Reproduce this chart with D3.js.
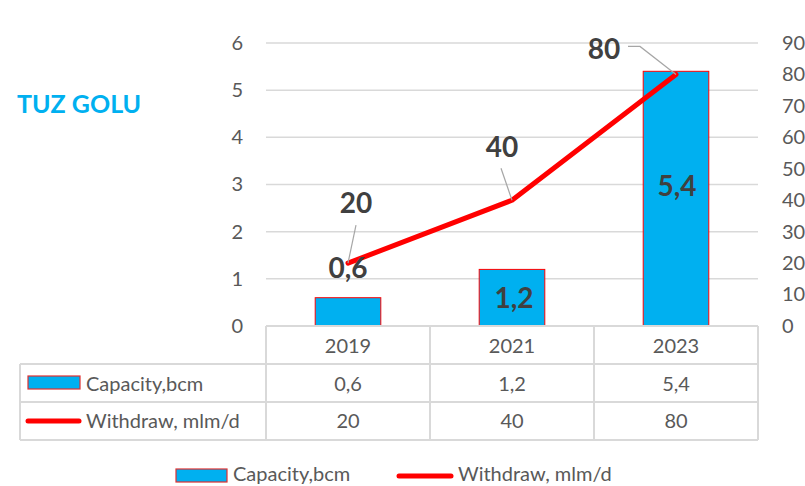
<!DOCTYPE html>
<html><head><meta charset="utf-8">
<script src="https://cdn.jsdelivr.net/npm/d3@7"></script>
<style>
body{margin:0;background:#fff;}
svg{display:block;font-family:Lato,"Open Sans",sans-serif;}
</style></head>
<body><svg id="c" width="805" height="486"></svg>
<script>
const categories = ["2019","2021","2023"];
const capacity = [0.6,1.2,5.4];
const withdraw = [20,40,80];
const capacityLabels = ["0,6","1,2","5,4"];
const leftTicks = [0,1,2,3,4,5,6];
const rightTicks = [0,10,20,30,40,50,60,70,80,90];
const seriesNames = ["Capacity,bcm","Withdraw, mlm/d"];
const title = "TUZ GOLU";

const svg = d3.select("#c");
const L = 266, R = 758, T = 43, B = 326;
const x = d3.scaleBand().domain(categories).range([L,R]).padding(0);
const yL = d3.scaleLinear().domain([0,6]).range([B,T]);
const yR = d3.scaleLinear().domain([0,90]).range([B,T]);
const grid = "#D9D9D9", txt = "#595959", lbl = "#404040";
const blue = "#00B0F0", red = "#FF0000";

// title
svg.append("text").attr("x",17).attr("y",113).attr("fill",blue)
  .attr("font-weight","bold").attr("font-size",25).text(title);

// gridlines
svg.append("g").selectAll("line").data(leftTicks.filter(d=>d>0)).join("line")
  .attr("x1",L).attr("x2",R).attr("y1",d=>yL(d)).attr("y2",d=>yL(d))
  .attr("stroke",grid).attr("stroke-width",1.5);

// left axis
const ax = svg.append("g").attr("transform",`translate(${L-23},0)`)
  .call(d3.axisLeft(yL).tickValues(leftTicks).tickSize(0).tickPadding(0).tickFormat(d3.format("d")));
ax.select(".domain").remove();
ax.selectAll("text").attr("font-size",20).attr("fill",txt).attr("font-family","Lato,sans-serif");
// right axis
const ar = svg.append("g").attr("transform",`translate(${R+24},0)`)
  .call(d3.axisRight(yR).tickValues(rightTicks).tickSize(0).tickPadding(0).tickFormat(d3.format("d")));
ar.select(".domain").remove();
ar.selectAll("text").attr("font-size",20).attr("fill",txt).attr("font-family","Lato,sans-serif");

// bars
const bw = x.bandwidth()*0.4;
svg.append("g").selectAll("rect").data(categories).join("rect")
  .attr("x",(d)=>x(d)+x.bandwidth()/2-bw/2).attr("width",bw)
  .attr("y",(d,i)=>yL(capacity[i])).attr("height",(d,i)=>B-yL(capacity[i]))
  .attr("fill",blue).attr("stroke",red).attr("stroke-width",1);

// table lines
const tg = svg.append("g").attr("stroke",grid).attr("stroke-width",2).attr("fill","none");
tg.append("line").attr("x1",L).attr("x2",R).attr("y1",B).attr("y2",B);
[364,402,440].forEach(yv=>tg.append("line").attr("x1",20).attr("x2",R).attr("y1",yv).attr("y2",yv));
tg.append("line").attr("x1",20).attr("x2",20).attr("y1",364).attr("y2",440);
[L, ...categories.map(c=>x(c)+x.bandwidth())].forEach(xv=>
  tg.append("line").attr("x1",xv).attr("x2",xv).attr("y1",B).attr("y2",440));

// header text
svg.append("g").selectAll("text").data(categories).join("text")
  .attr("x",d=>x(d)+x.bandwidth()/2).attr("y",353).attr("text-anchor","middle")
  .attr("font-size",20).attr("fill",txt).text(d=>d);
svg.append("g").selectAll("text").data(capacityLabels).join("text")
  .attr("x",(d,i)=>x(categories[i])+x.bandwidth()/2).attr("y",391).attr("text-anchor","middle")
  .attr("font-size",20).attr("fill",txt).text(d=>d);
svg.append("g").selectAll("text").data(withdraw).join("text")
  .attr("x",(d,i)=>x(categories[i])+x.bandwidth()/2).attr("y",428).attr("text-anchor","middle")
  .attr("font-size",20).attr("fill",txt).text(d=>d);

// table row legends
svg.append("rect").attr("x",28).attr("y",376).attr("width",52).attr("height",13)
  .attr("fill",blue).attr("stroke","#E03030").attr("stroke-width",1.2);
svg.append("text").attr("x",86).attr("y",391).attr("font-size",20).attr("fill",txt).text(seriesNames[0]);
svg.append("line").attr("x1",28).attr("x2",79).attr("y1",421).attr("y2",421)
  .attr("stroke",red).attr("stroke-width",5).attr("stroke-linecap","round");
svg.append("text").attr("x",86).attr("y",428).attr("font-size",20).attr("fill",txt).text(seriesNames[1]);

// line
const pts = categories.map((c,i)=>[x(c)+x.bandwidth()/2, yR(withdraw[i])]);
svg.append("path").attr("d",d3.line()(pts)).attr("fill","none")
  .attr("stroke",red).attr("stroke-width",5).attr("stroke-linejoin","round").attr("stroke-linecap","round");

// bar labels: first above bar, others centred in bar
const barLblOff = [[0,-30],[2,0],[1,-13]];
svg.append("g").selectAll("text").data(capacityLabels).join("text")
  .attr("x",(d,i)=>x(categories[i])+x.bandwidth()/2+barLblOff[i][0])
  .attr("y",(d,i)=> i===0 ? yL(capacity[i])+barLblOff[i][1] : (yL(capacity[i])+B)/2+barLblOff[i][1])
  .attr("dy","0.36em").attr("text-anchor","middle")
  .attr("font-size",28).attr("font-weight","bold").attr("fill",lbl).text(d=>d);

// line labels with leaders
const lineLblOff = [[8,-60],[-10,-53],[-72,-26]];
const leaderStart = [[8,-38],[-11,-32],[-48,-28]];
const lg = svg.append("g");
pts.forEach((p,i)=>{
  const s = [p[0]+leaderStart[i][0], p[1]+leaderStart[i][1]];
  let path = `M${s[0]},${s[1]}`;
  if(i===2) path += `L${s[0]+12},${s[1]}`;
  path += `L${p[0]},${p[1]}`;
  lg.append("path").attr("d",path).attr("fill","none").attr("stroke","#A6A6A6").attr("stroke-width",1.2);
});
svg.append("g").selectAll("text").data(withdraw).join("text")
  .attr("x",(d,i)=>pts[i][0]+lineLblOff[i][0]).attr("y",(d,i)=>pts[i][1]+lineLblOff[i][1])
  .attr("dy","0.36em").attr("text-anchor","middle")
  .attr("font-size",28).attr("font-weight","bold").attr("fill",lbl).text(d=>d);

// bottom legend
svg.append("rect").attr("x",176).attr("y",469).attr("width",51).attr("height",13)
  .attr("fill",blue).attr("stroke","#E03030").attr("stroke-width",1.2);
svg.append("text").attr("x",233).attr("y",481).attr("font-size",20).attr("fill",txt).text(seriesNames[0]);
svg.append("line").attr("x1",399).attr("x2",451).attr("y1",476).attr("y2",476)
  .attr("stroke",red).attr("stroke-width",5).attr("stroke-linecap","round");
svg.append("text").attr("x",458).attr("y",481).attr("font-size",20).attr("fill",txt).text(seriesNames[1]);
</script></body></html>
